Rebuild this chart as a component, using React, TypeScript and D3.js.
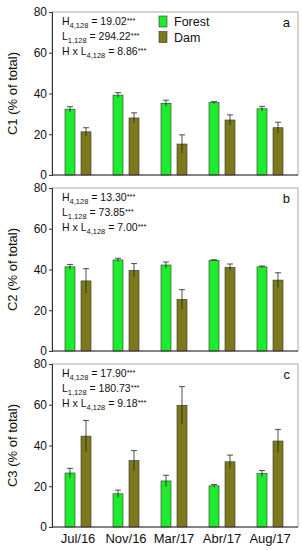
import { useRef, useEffect } from "react";
import * as d3 from "d3";

const months = ["Jul/16", "Nov/16", "Mar/17", "Abr/17", "Aug/17"];
const series = ["Forest", "Dam"];
const colors = ["#1eeb2a", "#7d7a1e"];

const c1Forest = [32.3, 39.2, 35.2, 35.5, 32.5];
const c1ForestErr = [1.2, 1.2, 1.5, 0.5, 1.2];
const c1Dam = [21.2, 28.0, 15.2, 27.0, 23.2];
const c1DamErr = [2.0, 2.5, 4.5, 2.5, 2.7];

const c2Forest = [41.3, 44.7, 42.2, 44.5, 41.3];
const c2ForestErr = [1.2, 0.8, 1.5, 0.3, 0.4];
const c2Dam = [34.4, 39.6, 25.3, 41.1, 34.8];
const c2DamErr = [6.0, 3.3, 4.8, 1.6, 3.6];

const c3Forest = [26.5, 16.3, 22.6, 20.2, 26.2];
const c3ForestErr = [2.3, 1.8, 2.8, 0.7, 1.5];
const c3Dam = [44.6, 32.6, 59.7, 32.0, 42.2];
const c3DamErr = [7.7, 4.9, 9.2, 3.3, 5.7];

const yTicks = [0, 20, 40, 60, 80];

const panels = [
  { label: "C1", letter: "a", forest: c1Forest, forestErr: c1ForestErr, dam: c1Dam, damErr: c1DamErr, stats: ["19.02", "294.22", "8.86"] },
  { label: "C2", letter: "b", forest: c2Forest, forestErr: c2ForestErr, dam: c2Dam, damErr: c2DamErr, stats: ["13.30", "73.85", "7.00"] },
  { label: "C3", letter: "c", forest: c3Forest, forestErr: c3ForestErr, dam: c3Dam, damErr: c3DamErr, stats: ["17.90", "180.73", "9.18"] },
];

export default function App() {
  const ref = useRef<SVGSVGElement>(null);

  useEffect(() => {
    if (!ref.current) return;
    const width = 302;
    const height = 550;
    const left = 52;
    const right = 298;
    const tops = [12, 188, 364];
    const ph = 163;

    const svg = d3.select(ref.current);
    svg.selectAll("*").remove();
    svg.attr("width", width).attr("height", height)
      .style("font-family", "Liberation Sans, Arial, sans-serif");

    const x = d3.scaleBand().domain(months).range([54, 294]);

    panels.forEach((p, pi) => {
      const top = tops[pi];
      const y = d3.scaleLinear().domain([0, 80]).range([top + ph, top]);
      const g = svg.append("g");

      // frame
      g.append("rect")
        .attr("x", left).attr("y", top)
        .attr("width", right - left).attr("height", ph)
        .attr("fill", "none").attr("stroke", "#aaa").attr("stroke-width", 1);

      // bars
      const data = months.map((m, i) => [
        { m, s: "Forest", v: p.forest[i], e: p.forestErr[i], c: colors[0] },
        { m, s: "Dam", v: p.dam[i], e: p.damErr[i], c: colors[1] },
      ]).flat();

      const bw = 10;
      const off = (s: string) => (s === "Forest" ? -13 : 3);
      const cx = (m: string) => (x(m) ?? 0) + x.bandwidth() / 2;

      g.selectAll("rect.bar").data(data).join("rect")
        .attr("class", "bar")
        .attr("x", (d) => cx(d.m) + off(d.s))
        .attr("y", (d) => y(d.v))
        .attr("width", bw)
        .attr("height", (d) => y(0) - y(d.v))
        .attr("fill", (d) => d.c)
        .attr("stroke", "#333")
        .attr("stroke-width", 0.6);

      // error bars
      const eg = g.selectAll("g.err").data(data).join("g").attr("class", "err");
      eg.append("line")
        .attr("x1", (d) => cx(d.m) + off(d.s) + bw / 2)
        .attr("x2", (d) => cx(d.m) + off(d.s) + bw / 2)
        .attr("y1", (d) => y(d.v - d.e))
        .attr("y2", (d) => y(d.v + d.e))
        .attr("stroke", "#222").attr("stroke-width", 0.8);
      eg.append("line")
        .attr("x1", (d) => cx(d.m) + off(d.s) + bw / 2 - 3)
        .attr("x2", (d) => cx(d.m) + off(d.s) + bw / 2 + 3)
        .attr("y1", (d) => y(d.v + d.e))
        .attr("y2", (d) => y(d.v + d.e))
        .attr("stroke", "#222").attr("stroke-width", 0.8);

      // y axis
      const ya = g.append("g")
        .attr("transform", `translate(${left},0)`)
        .call(d3.axisLeft(y).tickValues(yTicks).tickSize(3).tickPadding(2));
      ya.select(".domain").attr("stroke", "#333");
      ya.selectAll("text").attr("font-size", 12).attr("fill", "#111")
        .attr("font-family", "Liberation Sans, Arial, sans-serif");
      ya.selectAll("line").attr("stroke", "#333");

      // x axis line
      g.append("line")
        .attr("x1", left).attr("x2", right)
        .attr("y1", y(0)).attr("y2", y(0))
        .attr("stroke", "#333");

      // y label
      g.append("text")
        .attr("transform", `translate(17,${top + ph / 2}) rotate(-90)`)
        .attr("text-anchor", "middle")
        .attr("font-size", 13)
        .attr("fill", "#111")
        .text(`${p.label} (% of total)`);

      // panel letter
      g.append("text")
        .attr("x", 290).attr("y", top + 15)
        .attr("text-anchor", "end")
        .attr("font-size", 13)
        .attr("fill", "#111")
        .text(p.letter);

      // stats
      const pre = ["H", "L", "H x L"];
      const sub = ["4,128", "1,128", "4,128"];
      pre.forEach((t, i) => {
        const tx = g.append("text")
          .attr("x", 62).attr("y", top + 13 + i * 15)
          .attr("font-size", 10.5).attr("fill", "#111");
        tx.append("tspan").text(t);
        tx.append("tspan").attr("font-size", 7.5).attr("dy", 2.5).text(sub[i]);
        tx.append("tspan").attr("dy", -2.5).text(` = ${p.stats[i]}`);
        tx.append("tspan").attr("font-size", 7.5).attr("dy", -2.5).text("***");
      });

      // legend
      if (pi === 0) {
        series.forEach((s, i) => {
          g.append("rect")
            .attr("x", 159).attr("y", top + 4 + i * 15.5)
            .attr("width", 8).attr("height", 11)
            .attr("fill", colors[i]).attr("stroke", "#333").attr("stroke-width", 0.6);
          g.append("text")
            .attr("x", 174).attr("y", top + 14 + i * 15.5)
            .attr("font-size", 12.5).attr("fill", "#111")
            .text(s);
        });
      }
    });

    // x tick labels
    const xa = svg.append("g")
      .attr("transform", `translate(0,${tops[2] + ph})`)
      .call(d3.axisBottom(x).tickSize(0).tickPadding(7));
    xa.select(".domain").remove();
    xa.selectAll("text").attr("font-size", 13).attr("fill", "#111")
      .attr("font-family", "Liberation Sans, Arial, sans-serif");
  }, []);

  return <svg ref={ref} style={{ position: "absolute", left: 0, top: 0 }}></svg>;
}
